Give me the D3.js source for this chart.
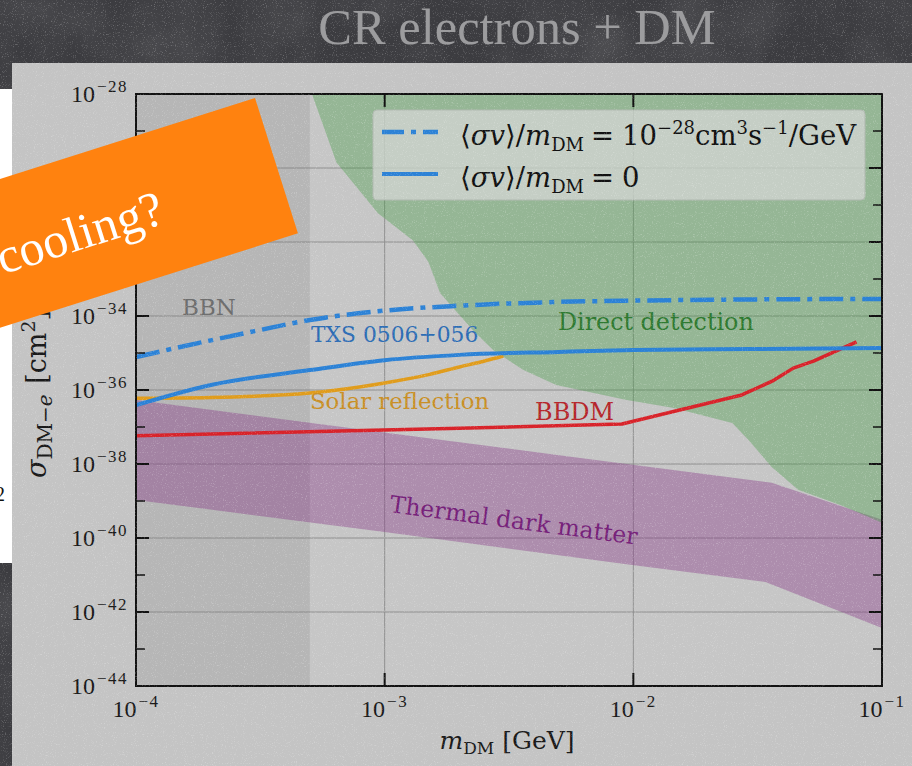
<!DOCTYPE html>
<html><head><meta charset="utf-8">
<script src="https://cdn.jsdelivr.net/npm/d3@7"></script>
<style>html,body{margin:0;padding:0;background:#3c3c40;overflow:hidden}</style>
</head><body>
<svg id="c" width="912" height="766" xmlns="http://www.w3.org/2000/svg"></svg>
<script>
// ---------- data ----------
const massTicks = [1e-4, 1e-3, 1e-2, 1e-1];
const massTickExp = ["−4", "−3", "−2", "−1"];
const sigmaTicks = [1e-44, 1e-42, 1e-40, 1e-38, 1e-36, 1e-34, 1e-32, 1e-30, 1e-28];
const sigmaTickExp = ["−44", "−42", "−40", "−38", "−36", "−34", "−32", "−30", "−28"];
const sigmaMinor = [1e-43, 1e-41, 1e-39, 1e-37, 1e-35, 1e-33, 1e-31, 1e-29];

// <σv>/m = 1e-28 (dash-dot)
const annMass  = [1e-4, 2e-4, 3e-4, 5e-4, 1e-3, 2e-3, 5e-3, 1e-2, 3e-2, 1e-1];
const annSigma = [7.8e-36, 2.2e-35, 3.9e-35, 7.8e-35, 1.4e-34, 1.9e-34, 2.4e-34, 2.6e-34, 2.8e-34, 2.9e-34];
// <σv>/m = 0 (solid)
const zeroMass  = [1e-4, 2e-4, 5e-4, 1e-3, 2e-3, 5e-3, 1e-2, 3e-2, 1e-1];
const zeroSigma = [3.9e-37, 1.37e-36, 3.45e-36, 6.4e-36, 8.9e-36, 1.07e-35, 1.2e-35, 1.28e-35, 1.37e-35];
// Solar reflection
const solarMass  = [1e-4, 2e-4, 5e-4, 1e-3, 1.5e-3, 2e-3, 2.5e-3, 3e-3];
const solarSigma = [6.0e-37, 6.3e-37, 8.3e-37, 1.55e-36, 2.6e-36, 4.2e-36, 6.0e-36, 8.3e-36];
// BBDM
const bbdmMass  = [1e-4, 2e-3, 9e-3, 2.7e-2, 3.6e-2, 4.4e-2, 5.3e-2, 7.9e-2];
const bbdmSigma = [5.8e-38, 9.3e-38, 1.2e-37, 7.2e-37, 1.7e-36, 3.9e-36, 6.0e-36, 2.0e-35];
// Direct detection lower boundary
const ddMass  = [5.1e-4, 6.4e-4, 9.4e-4, 1.3e-3, 1.5e-3, 1.67e-3, 2.26e-3, 2.73e-3, 3.6e-3, 4.9e-3, 9.4e-3, 1.44e-2, 2.5e-2, 2.9e-2, 3.6e-2, 4.6e-2, 6.8e-2, 1e-1];
const ddSigma = [1e-28, 1.4e-30, 6.0e-32, 1.1e-32, 2.9e-33, 4.2e-34, 4.2e-35, 1.2e-35, 3.5e-36, 1.37e-36, 5.4e-37, 3.3e-37, 1.28e-37, 4.5e-38, 8.3e-39, 2.0e-39, 7.8e-40, 2.6e-40];
// Thermal dark matter band
const thUpMass  = [1e-4, 1.67e-3, 5.7e-3, 3.6e-2, 1e-1];
const thUpSigma = [5.4e-37, 4.5e-38, 1.55e-38, 3.1e-39, 3.1e-40];
const thLoMass  = [1e-4, 1e-3, 9.9e-3, 3.4e-2, 1e-1];
const thLoSigma = [1.07e-39, 1.45e-40, 1.86e-41, 6.5e-42, 3.7e-43];
// BBN excluded mass
const bbnMass = [1e-4, 5e-4];

// ---------- setup ----------
const svg = d3.select("#c");
const W = 912, H = 766;
const L = 136, R = 882, T = 94, B = 686;
const x = d3.scaleLog().domain([1e-4, 1e-1]).range([L, R]);
const y = d3.scaleLog().domain([1e-44, 1e-28]).range([B, T]);
const SERIF = "'DejaVu Serif', serif";
const NUM = "'Liberation Serif', 'DejaVu Serif', serif";

const defs = svg.append("defs");
const f1 = defs.append("filter").attr("id", "speck").attr("x", 0).attr("y", 0).attr("width", "100%").attr("height", "100%");
f1.append("feTurbulence").attr("type", "fractalNoise").attr("baseFrequency", 0.9).attr("numOctaves", 2).attr("seed", 3);
f1.append("feColorMatrix").attr("type", "matrix").attr("values", "0 0 0 0 1  0 0 0 0 1  0 0 0 0 1  4 0 0 0 -2.3");
const f2 = defs.append("filter").attr("id", "cloud").attr("x", 0).attr("y", 0).attr("width", "100%").attr("height", "100%");
f2.append("feTurbulence").attr("type", "fractalNoise").attr("baseFrequency", 0.012).attr("numOctaves", 3).attr("seed", 7);
f2.append("feColorMatrix").attr("type", "matrix").attr("values", "0 0 0 0 1  0 0 0 0 1  0 0 0 0 1  1.2 0 0 0 -0.45");
defs.append("clipPath").attr("id", "plotclip").append("rect").attr("x", L).attr("y", T).attr("width", R - L).attr("height", B - T);

// dark chalkboard
svg.append("rect").attr("width", W).attr("height", H).attr("fill", "#3c3c40");
svg.append("rect").attr("width", W).attr("height", H).attr("filter", "url(#cloud)").attr("opacity", 0.14);
svg.append("rect").attr("width", W).attr("height", H).attr("filter", "url(#speck)").attr("opacity", 0.22);

// white strip on left
svg.append("rect").attr("x", 0).attr("y", 89).attr("width", 14).attr("height", 474).attr("fill", "#ffffff");
svg.append("text").attr("x", -5).attr("y", 501).attr("font-family", NUM).attr("font-size", 20).attr("fill", "#111").text("2");

// light panel
svg.append("rect").attr("x", 12).attr("y", 63).attr("width", W - 12).attr("height", H - 63).attr("fill", "#c4c4c4");

// plot area
const plot = svg.append("g").attr("clip-path", "url(#plotclip)");
plot.append("rect").attr("x", L).attr("y", T).attr("width", R - L).attr("height", B - T).attr("fill", "#c6c6c6");
// BBN
plot.append("rect").attr("x", x(bbnMass[0])).attr("y", T).attr("width", x(bbnMass[1]) - x(bbnMass[0])).attr("height", B - T)
  .attr("fill", "#000").attr("opacity", 0.08);

// grid
const grid = plot.append("g").attr("stroke", "#7d7d7d").attr("stroke-width", 1).attr("opacity", 0.75);
grid.selectAll("line.v").data(massTicks.slice(1, -1)).join("line")
  .attr("x1", d => x(d)).attr("x2", d => x(d)).attr("y1", T).attr("y2", B);
grid.selectAll("line.h").data(sigmaTicks.slice(1, -1)).join("line").attr("class", "h")
  .attr("y1", d => y(d)).attr("y2", d => y(d)).attr("x1", L).attr("x2", R);

// thermal band
const band = thUpMass.map((m, i) => [x(m), y(thUpSigma[i])])
  .concat(thLoMass.map((m, i) => [x(m), y(thLoSigma[i])]).reverse());
plot.append("path").attr("d", d3.line()(band) + "Z").attr("fill", "#8a3d8a").attr("opacity", 0.42);

// direct detection region
const dd = ddMass.map((m, i) => [x(m), y(ddSigma[i])]);
dd.push([x(1e-1), y(1e-28)]);
plot.append("path").attr("d", d3.line()(dd) + "Z").attr("fill", "#3f9a3f").attr("opacity", 0.36);

// lines
function drawLine(ms, ss, color, w, dash, curve) {
  const gen = d3.line().curve(curve || d3.curveMonotoneX);
  const p = plot.append("path").attr("d", gen(ms.map((m, i) => [x(m), y(ss[i])])))
    .attr("fill", "none").attr("stroke", color).attr("stroke-width", w).attr("stroke-linecap", "butt")
    .attr("stroke-linejoin", "round");
  if (dash) p.attr("stroke-dasharray", dash);
}
const BLUE = "#2c82d6";
drawLine(solarMass, solarSigma, "#e09c1c", 3.5);
drawLine(bbdmMass, bbdmSigma, "#d8232a", 3.5, null, d3.curveLinear);
drawLine(zeroMass, zeroSigma, BLUE, 4);
drawLine(annMass, annSigma, BLUE, 4.5, "24,7,5,7");

// labels in plot
function lab(t, px, py, color, size, rot) {
  const e = svg.append("text").attr("x", px).attr("y", py).attr("fill", color)
    .attr("font-family", SERIF).attr("font-size", size).text(t);
  if (rot) e.attr("transform", `rotate(${rot},${px},${py})`);
  return e;
}
lab("BBN", 182, 315, "#6e6e6e", 23);
lab("TXS 0506+056", 311, 342, "#2d6db5", 21.8);
lab("Direct detection", 558, 330, "#2f7a31", 23.8);
lab("Solar reflection", 310, 409, "#c98f25", 22.8);
lab("BBDM", 535, 420, "#b5262b", 24);
lab("Thermal dark matter", 389, 512, "#76217a", 23.5, 7.5);

// legend
const lg = svg.append("g");
lg.append("rect").attr("x", 373).attr("y", 110).attr("width", 492).attr("height", 90).attr("rx", 4)
  .attr("fill", "#d8d8d8").attr("opacity", 0.72).attr("stroke", "#bbbbbb");
lg.append("line").attr("x1", 382).attr("x2", 438).attr("y1", 132).attr("y2", 132)
  .attr("stroke", BLUE).attr("stroke-width", 4.5).attr("stroke-dasharray", "22,7,5,7");
lg.append("line").attr("x1", 382).attr("x2", 438).attr("y1", 174).attr("y2", 174)
  .attr("stroke", BLUE).attr("stroke-width", 4);
function legText(py, rhsParts) {
  const t = lg.append("text").attr("x", 460).attr("y", py).attr("font-family", SERIF).attr("font-size", 27.5).attr("fill", "#111");
  t.append("tspan").text("⟨");
  t.append("tspan").attr("font-style", "italic").text("σv");
  t.append("tspan").text("⟩/");
  t.append("tspan").attr("font-style", "italic").text("m");
  t.append("tspan").attr("font-size", 18).attr("dy", 6).text("DM");
  t.append("tspan").attr("dy", -6).attr("dx", 7).text("=");
  rhsParts.forEach((p, k) => {
    const s = t.append("tspan").text(p.t);
    if (k === 0) s.attr("dx", 8);
    if (p.sup) s.attr("font-size", 18).attr("dy", p.dy);
    else if (p.dy) s.attr("dy", p.dy);
  });
}
legText(145, [{t: "10"}, {t: "−28", sup: true, dy: -11}, {t: "cm", dy: 11}, {t: "3", sup: true, dy: -11},
  {t: "s", dy: 11}, {t: "−1", sup: true, dy: -11}, {t: "/GeV", dy: 11}]);
legText(187, [{t: "0"}]);

// axes frame and ticks
const ax = svg.append("g").attr("stroke", "#111");
ax.append("rect").attr("x", L).attr("y", T).attr("width", R - L).attr("height", B - T)
  .attr("fill", "none").attr("stroke-width", 2);
const yMaj = sigmaTicks.slice(1, -1), yMin = sigmaMinor;
[[L, 1], [R, -1]].forEach(([x0, dir]) => {
  ax.selectAll(null).data(yMaj).join("line").attr("x1", x0).attr("x2", x0 + dir * 13)
    .attr("y1", d => y(d)).attr("y2", d => y(d)).attr("stroke-width", 2);
  ax.selectAll(null).data(yMin).join("line").attr("x1", x0).attr("x2", x0 + dir * 9)
    .attr("y1", d => y(d)).attr("y2", d => y(d)).attr("stroke-width", 1.5);
});
[[B, -1], [T, 1]].forEach(([y0, dir]) => {
  ax.selectAll(null).data(massTicks.slice(1, -1)).join("line").attr("y1", y0).attr("y2", y0 + dir * 13)
    .attr("x1", d => x(d)).attr("x2", d => x(d)).attr("stroke-width", 2);
});

// tick labels
const tl = svg.append("g").attr("font-family", NUM).attr("fill", "#1a1a1a");
sigmaTicks.forEach((v, i) => {
  const t = tl.append("text").attr("x", 128).attr("y", y(v) + 8).attr("text-anchor", "end").attr("font-size", 24);
  t.append("tspan").text("10");
  t.append("tspan").attr("font-size", 17).attr("dy", -10).attr("dx", 2).attr("letter-spacing", 1.5).text(sigmaTickExp[i]);
});
massTicks.forEach((v, i) => {
  const t = tl.append("text").attr("x", x(v)).attr("y", 717).attr("text-anchor", "middle").attr("font-size", 24);
  t.append("tspan").text("10");
  t.append("tspan").attr("font-size", 17).attr("dy", -10).attr("dx", 2).attr("letter-spacing", 1.5).text(massTickExp[i]);
});

// axis labels
const xl = svg.append("text").attr("x", 507).attr("y", 749).attr("text-anchor", "middle")
  .attr("font-family", SERIF).attr("font-size", 25).attr("fill", "#1a1a1a");
xl.append("tspan").attr("font-style", "italic").text("m");
xl.append("tspan").attr("font-size", 17).attr("dy", 5).text("DM");
xl.append("tspan").attr("dy", -5).text(" [GeV]");

const yl = svg.append("text").attr("transform", "translate(46,478) rotate(-90)")
  .attr("font-family", SERIF).attr("font-size", 27).attr("fill", "#1a1a1a");
yl.append("tspan").attr("font-style", "italic").text("σ");
yl.append("tspan").attr("font-size", 20).attr("dy", 6).text("DM−");
yl.append("tspan").attr("font-size", 20).attr("font-style", "italic").text("e");
yl.append("tspan").attr("dy", -6).attr("dx", 2).text(" [cm");
yl.append("tspan").attr("font-size", 19).attr("dy", -11).text("2");
yl.append("tspan").attr("dy", 11).text("]");

// panel speckle
svg.append("rect").attr("x", 12).attr("y", 63).attr("width", W - 12).attr("height", H - 63)
  .attr("filter", "url(#speck)").attr("opacity", 0.22);

// title
svg.append("text").attr("x", 517).attr("y", 44).attr("text-anchor", "middle")
  .attr("font-family", "'Liberation Serif', serif").attr("font-size", 50.5).attr("fill", "#9c9c9e")
  .text("CR electrons + DM");

// orange banner
const ban = svg.append("g").attr("transform", "translate(255,98) rotate(-17.6)");
ban.append("rect").attr("x", -420).attr("y", 0).attr("width", 420).attr("height", 142).attr("fill", "#ff820f");
ban.append("text").attr("x", -208).attr("y", 92).attr("text-anchor", "middle")
  .attr("font-family", "'Liberation Serif', serif").attr("font-size", 50).attr("fill", "#ffffff")
  .text("cooling?");
</script>
</body></html>
